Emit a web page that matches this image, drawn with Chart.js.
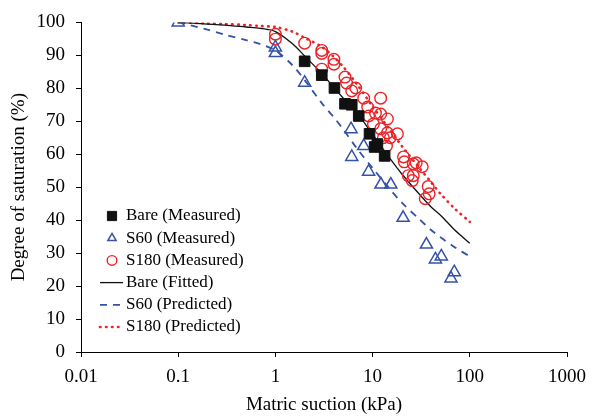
<!DOCTYPE html>
<html>
<head>
<meta charset="utf-8">
<script src="https://cdn.jsdelivr.net/npm/chart.js@4"></script>
<style>
  html, body { margin: 0; padding: 0; background: #fff; }
  #wrap { width: 595px; height: 419px; }
</style>
</head>
<body>
<div id="wrap"><canvas id="swcc" width="595" height="419"></canvas></div>
<script>
// axis ticks
const xTicks = [0.01, 0.1, 1, 10, 100, 1000];
const yTicks = [0, 10, 20, 30, 40, 50, 60, 70, 80, 90, 100];

// measured points (matric suction kPa, degree of saturation %)
const bareX = [2, 3, 4.05, 5.2, 6.1, 7.2, 9.3, 10.5, 11.2, 13.3];
const bareY = [88.2, 84.0, 80.1, 75.3, 75.0, 71.6, 66.2, 62.2, 63.1, 59.5];

const s60X = [0.1, 1, 1, 2, 6, 8.1, 6.1, 9.1, 12.2, 15.4, 20.6, 35.8, 44.3, 50.9, 69.2, 64];
const s60Y = [100, 92.4, 90.7, 81.7, 67.6, 62.5, 59.2, 54.7, 50.8, 50.8, 40.7, 32.6, 28.1, 29.0, 24.2, 22.3];

const s180X = [1, 1, 2, 3, 3, 4, 4, 3, 5.2, 5.4, 6.7, 6.1, 8.1, 12.1, 8.9, 10.7, 12.1, 14.2, 9.1,
  10.2, 12.1, 14.2, 18.0, 15.2, 12.9, 13.9, 20.8, 21.2, 28.1, 26.2, 32.4, 23.3, 26.2, 25.6, 37.3, 38.2, 34.8];
const s180Y = [96.4, 94.9, 93.7, 91.5, 90.6, 88.8, 87.3, 85.8, 83.4, 81.6, 80.1, 79.2, 77.0, 77.0, 74.3, 72.5, 72.2, 70.7, 71.6,
  69.2, 67.7, 66.5, 66.2, 65.0, 65.0, 62.5, 59.2, 57.7, 57.4, 57.1, 56.2, 53.5, 53.5, 52.0, 50.2, 48.0, 46.5];

// fitted / predicted curves
const curveX = [0.1, 0.2, 0.3, 0.5, 0.7, 1, 1.5, 2, 3, 4, 5, 7, 10, 15, 20, 30, 40, 50, 70, 100];
const bareFitY = [100, 99.5, 99.2, 98.6, 98.2, 97.2, 93.5, 89.8, 84.5, 80.2, 77, 72.3, 66, 58.8, 54, 48, 44, 41.5, 37, 33];
const s60PredY = [100, 97.8, 96.3, 94.6, 93.4, 91.5, 87, 82.5, 75.5, 71.2, 67.5, 61.5, 55.8, 49.5, 45.3, 40.4, 37, 34.8, 31.8, 29];
const s180PredY = [100, 99.7, 99.5, 99.2, 98.9, 98.6, 97.2, 95.3, 92.6, 89.5, 86.5, 81, 74.5, 67.5, 62.5, 56, 51.5, 48, 43.5, 39.5];

const BLUE = "#3553a6";
const RED = "#ec2227";
const FONT = '"Liberation Serif", "Times New Roman", serif';

const zip = (xs, ys) => xs.map((x, i) => ({ x, y: ys[i] }));

const legendPlugin = {
  id: "boxLegend",
  afterDraw(chart) {
    const ctx = chart.ctx;
    ctx.save();
    ctx.font = `17px ${FONT}`;
    ctx.textBaseline = "middle";
    chart.data.datasets.forEach((ds, i) => {
      const y = 216 + i * 22.2;
      ctx.strokeStyle = ds.borderColor;
      if (ds.showLine) {
        ctx.lineWidth = ds.borderWidth;
        ctx.lineCap = ds.borderCapStyle || "butt";
        ctx.setLineDash(ds.borderDash || []);
        ctx.beginPath();
        ctx.moveTo(100, y);
        ctx.lineTo(123, y);
        ctx.stroke();
        ctx.setLineDash([]);
      } else {
        ctx.fillStyle = ds.backgroundColor;
        ctx.lineWidth = ds.pointBorderWidth;
        Chart.helpers.drawPoint(ctx, {
          pointStyle: ds.pointStyle,
          radius: ds.pointStyle === "rect" ? 6.5 : 4.8,
          borderWidth: ds.pointBorderWidth,
          rotation: 0,
        }, 112, y);
      }
      ctx.fillStyle = "#000";
      ctx.fillText(ds.label, 126, y);
    });
    ctx.restore();
  },
};

new Chart(document.getElementById("swcc"), {
  type: "scatter",
  data: {
    datasets: [
      {
        label: "Bare (Measured)",
        data: zip(bareX, bareY),
        pointStyle: "rect",
        pointRadius: 7.5,
        pointBorderWidth: 1,
        borderColor: "#111",
        backgroundColor: "#111",
      },
      {
        label: "S60 (Measured)",
        data: zip(s60X, s60Y),
        pointStyle: "triangle",
        pointRadius: 7,
        pointBorderWidth: 1.5,
        borderColor: BLUE,
        backgroundColor: "rgba(0,0,0,0)",
      },
      {
        label: "S180 (Measured)",
        data: zip(s180X, s180Y),
        pointStyle: "circle",
        pointRadius: 5.8,
        pointBorderWidth: 1.4,
        borderColor: RED,
        backgroundColor: "rgba(0,0,0,0)",
      },
      {
        label: "Bare (Fitted)",
        data: zip(curveX, bareFitY),
        showLine: true,
        pointRadius: 0,
        borderWidth: 1.3,
        borderColor: "#111",
        tension: 0.3,
      },
      {
        label: "S60 (Predicted)",
        data: zip(curveX, s60PredY),
        showLine: true,
        pointRadius: 0,
        borderWidth: 1.8,
        borderDash: [7, 6],
        borderColor: BLUE,
        tension: 0.3,
      },
      {
        label: "S180 (Predicted)",
        data: zip(curveX, s180PredY),
        showLine: true,
        pointRadius: 0,
        borderWidth: 2.6,
        borderDash: [0.5, 5.5],
        borderCapStyle: "round",
        borderColor: RED,
        tension: 0.3,
      },
    ],
  },
  options: {
    responsive: false,
    animation: false,
    layout: { padding: { left: 0, right: 24, top: 21, bottom: 0 } },
    plugins: { legend: { display: false }, tooltip: { enabled: false } },
    scales: {
      x: {
        type: "logarithmic",
        min: 0.01,
        max: 1000,
        afterBuildTicks: (scale) => { scale.ticks = xTicks.map((v) => ({ value: v })); },
        afterFit: (scale) => { scale.height = 67; },
        ticks: {
          color: "#000",
          font: { family: FONT, size: 19 },
          padding: 9,
          maxRotation: 0,
          callback: (v) => String(v),
        },
        grid: { drawOnChartArea: false, drawTicks: true, tickLength: 5, color: "#000" },
        border: { color: "#000", width: 1 },
        title: {
          display: true,
          text: "Matric suction (kPa)",
          color: "#000",
          font: { family: FONT, size: 19 },
          padding: { top: 0, bottom: 3 },
        },
      },
      y: {
        min: 0,
        max: 100,
        afterBuildTicks: (scale) => { scale.ticks = yTicks.map((v) => ({ value: v })); },
        afterFit: (scale) => { scale.width = 81; },
        ticks: {
          color: "#000",
          font: { family: FONT, size: 19 },
          padding: 11,
        },
        grid: { drawOnChartArea: false, drawTicks: true, tickLength: 5, color: "#000" },
        border: { color: "#000", width: 1 },
        title: {
          display: true,
          text: "Degree of saturation (%)",
          color: "#000",
          font: { family: FONT, size: 19 },
          padding: { top: 8, bottom: 0 },
        },
      },
    },
  },
  plugins: [legendPlugin],
});
</script>
</body>
</html>
